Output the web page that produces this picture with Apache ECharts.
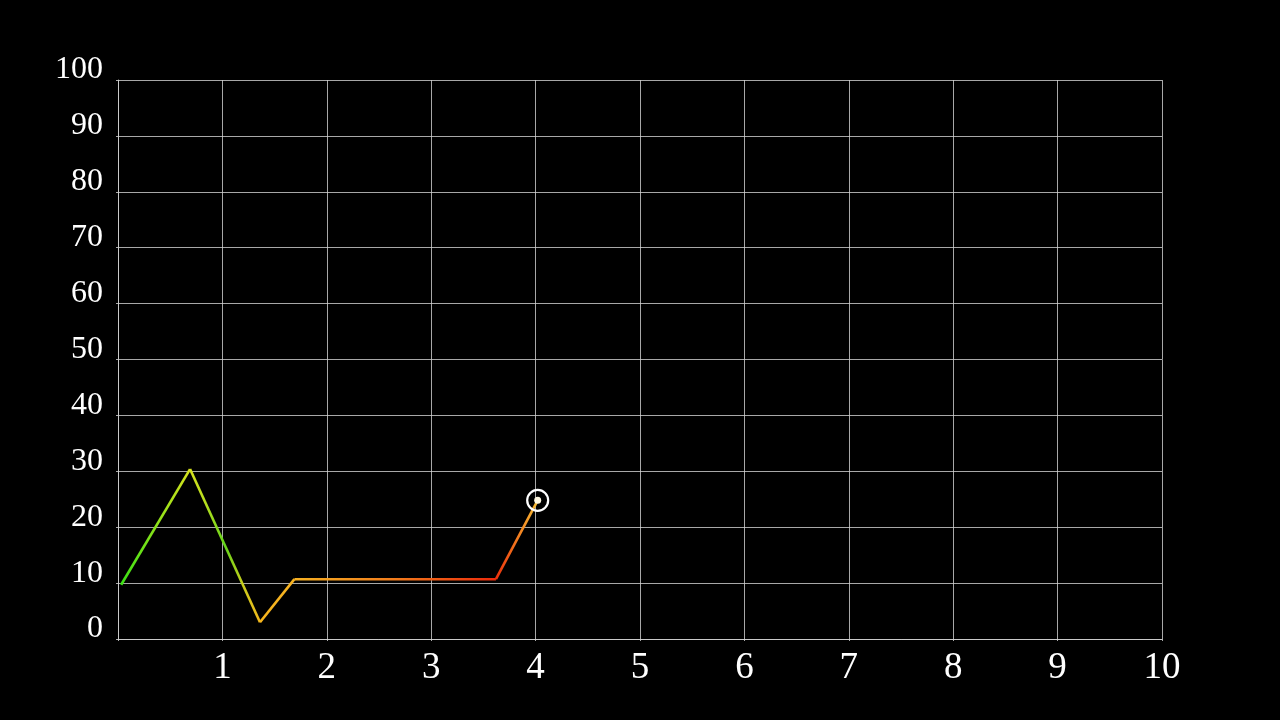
<!DOCTYPE html>
<html>
<head>
<meta charset="utf-8">
<script src="https://cdn.jsdelivr.net/npm/echarts@6/dist/echarts.min.js"></script>
<style>
html,body{margin:0;padding:0;background:#000;}
#chart{width:1280px;height:720px;}
</style>
</head>
<body>
<div id="chart"></div>
<script>
// Data
const xValues = [0.03, 0.69, 1.36, 1.69, 3.62, 4.02];
const yValues = [9.7, 30.4, 3.0, 10.7, 10.7, 24.8];
const xTicks = [1, 2, 3, 4, 5, 6, 7, 8, 9, 10];
const yTicks = [0, 10, 20, 30, 40, 50, 60, 70, 80, 90, 100];

// Colour stops for each segment (style only)
const segmentStops = [
  [[0, '#36e014'], [1, '#dce21e']],
  [[0, '#dce21e'], [0.25, '#b4de1e'], [0.5, '#62d41a'], [0.75, '#cccc1c'], [1, '#f6b41c']],
  [[0, '#f6b41c'], [1, '#f6b222']],
  [[0, '#f6b222'], [0.5, '#f27c1c'], [1, '#ec280a']],
  [[0, '#ec280a'], [0.5, '#f2781e'], [1, '#f8c838']]
];

const series = [];
for (let i = 0; i < xValues.length - 1; i++) {
  series.push({
    type: 'line',
    data: [[xValues[i], yValues[i]], [xValues[i + 1], yValues[i + 1]]],
    showSymbol: false,
    symbol: 'none',
    silent: true,
    animation: false,
    lineStyle: {
      width: 2.6,
      color: new echarts.graphic.LinearGradient(0, 0, 1, 0,
        segmentStops[i].map(s => ({offset: s[0], color: s[1]})))
    },
    z: 3
  });
}
const last = xValues.length - 1;
series.push({
  type: 'scatter',
  data: [[xValues[last], yValues[last]]],
  symbol: 'circle',
  symbolSize: 21,
  silent: true,
  animation: false,
  itemStyle: {color: 'rgba(0,0,0,0)', borderColor: '#ffffff', borderWidth: 2.2, opacity: 1},
  z: 4
});
series.push({
  type: 'scatter',
  data: [[xValues[last], yValues[last]]],
  symbol: 'circle',
  symbolSize: 7,
  silent: true,
  animation: false,
  itemStyle: {color: '#fff8e0', opacity: 1},
  z: 5
});

const chart = echarts.init(document.getElementById('chart'), null, {renderer: 'canvas'});
const gridColor = 'rgba(210,210,210,0.8)';
chart.setOption({
  backgroundColor: '#000000',
  animation: false,
  grid: {left: 118, right: 118, top: 80, bottom: 81, containLabel: false},
  xAxis: {
    type: 'value',
    min: 0,
    max: 10,
    interval: 1,
    axisLine: {show: true, lineStyle: {color: gridColor, width: 1}},
    axisTick: {show: true, length: 2, inside: false, lineStyle: {color: gridColor}},
    splitLine: {show: true, lineStyle: {color: gridColor, width: 1}},
    axisLabel: {
      color: '#ffffff',
      fontFamily: 'Liberation Serif, DejaVu Serif, serif',
      fontSize: 37,
      margin: 11,
      formatter: v => (xTicks.indexOf(v) >= 0 ? String(v) : '')
    }
  },
  yAxis: {
    type: 'value',
    min: 0,
    max: 100,
    interval: 10,
    axisLine: {show: true, lineStyle: {color: gridColor, width: 1}},
    axisTick: {show: true, length: 2, lineStyle: {color: gridColor}},
    splitLine: {show: true, lineStyle: {color: gridColor, width: 1}},
    axisLabel: {
      color: '#ffffff',
      fontFamily: 'Liberation Serif, DejaVu Serif, serif',
      fontSize: 32,
      margin: 15,
      verticalAlign: 'bottom',
      lineHeight: 20,
      formatter: v => (yTicks.indexOf(v) >= 0 ? String(v) : '')
    }
  },
  series: series
});
</script>
</body>
</html>
